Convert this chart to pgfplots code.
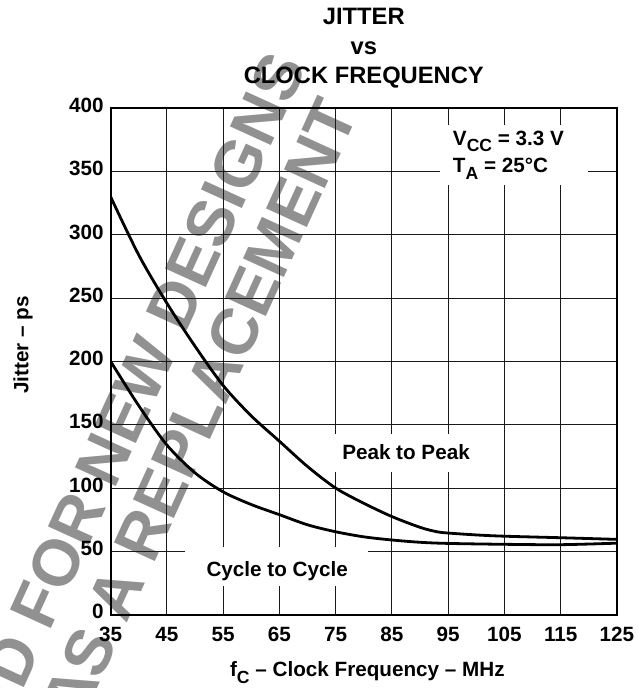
\documentclass[border=0pt]{standalone}
\usepackage{fontspec}
\setmainfont{Liberation Sans}
\usepackage{graphicx}
\usepackage{pgfplots}
\pgfplotsset{compat=1.18}
\newcommand\sub[1]{\raisebox{-0.3em}{\scalebox{0.85}{#1}}}
\begin{document}
\begin{tikzpicture}
\begin{scope}[x=0.75pt,y=0.75pt]
\path[use as bounding box] (-110.7,-73.3) rectangle (526.3,614.7);
\node[overlay, rotate=65.5, anchor=base east, text=black!43, inner sep=0pt,
      font=\fontsize{49pt}{49pt}\selectfont\bfseries] at (196.6,547.7) {NOT RECOMMENDED FOR NEW DESIGNS};
\node[overlay, rotate=65.5, anchor=base east, text=black!43, inner sep=0pt,
      font=\fontsize{49pt}{49pt}\selectfont\bfseries] at (248.9,502.1) {USE AS A REPLACEMENT};
\end{scope}
\begin{axis}[
  at={(0,0)}, anchor=south west,
  scale only axis, width=379.7pt, height=379.8pt,
  xmin=35, xmax=125, ymin=0, ymax=400,
  xtick={35,45,...,125}, ytick={0,50,...,400},
  grid=major, major grid style={black!90, line width=0.8pt},
  axis line style={line width=1.6pt},
  major tick length=0pt,
  tick label style={font=\fontsize{15.5pt}{15.5pt}\selectfont\bfseries},
  typeset ticklabels with strut,
  /pgf/number format/assume math mode=true,
  yticklabel style={xshift=-1.75pt},
  xticklabel style={yshift=-5.5pt},
  title={JITTER\\vs\\CLOCK FREQUENCY},
  title style={at={(axis description cs:0.5,1.182)}, anchor=north, align=center, inner sep=0pt,
     font=\fontsize{17.8pt}{22.2pt}\selectfont\bfseries},
  xlabel={f\sub{C} -- Clock Frequency -- MHz},
  xlabel style={at={(axis description cs:0.507,-0.123)}, anchor=base, inner sep=0pt,
     font=\fontsize{15.5pt}{15.5pt}\selectfont\bfseries},
  ylabel={Jitter -- ps},
  ylabel style={at={(axis description cs:-0.173,0.533)}, anchor=center, inner sep=0pt,
     font=\fontsize{15.5pt}{15.5pt}\selectfont\bfseries},
]
\addplot[black, line width=2.1pt, smooth, tension=0.5] coordinates {
 (35,330) (40,284) (45,246) (50,212) (55,181) (60,157) (65,137) (70,117) (75,100)
 (80,88) (85,77.5) (90,69) (93,65.5) (95,64.5) (100,63) (105,62) (115,60.8) (125,59.5)};
\addplot[black, line width=2.1pt, smooth, tension=0.5] coordinates {
 (35,200) (40,165) (45,134) (50,112) (55,97) (60,87) (65,79) (70,71) (75,65.5)
 (80,61.5) (85,59) (90,57.2) (95,56.3) (105,55.6) (115,55.3) (125,56.5)};
\fill[white] (axis cs:93.5,339.5) rectangle (axis cs:119.8,387);
\node[anchor=base west, inner sep=0pt, font=\fontsize{15.5pt}{15.5pt}\selectfont\bfseries]
  at (axis cs:95.8,370.4) {V\sub{CC} = 3.3 V};
\node[anchor=base west, inner sep=0pt, font=\fontsize{15.5pt}{15.5pt}\selectfont\bfseries]
  at (axis cs:95.8,349) {T\sub{A} = 25°C};
\fill[white] (axis cs:73.7,113) rectangle (axis cs:100.7,143);
\node[anchor=base, inner sep=0pt, font=\fontsize{15.5pt}{15.5pt}\selectfont\bfseries]
  at (axis cs:87.5,122.2) {Peak to Peak};
\fill[white] (axis cs:48.2,22.7) rectangle (axis cs:80.7,53.7);
\node[anchor=base, inner sep=0pt, font=\fontsize{15.5pt}{15.5pt}\selectfont\bfseries]
  at (axis cs:64.6,30.5) {Cycle to Cycle};
\end{axis}
\end{tikzpicture}
\end{document}
